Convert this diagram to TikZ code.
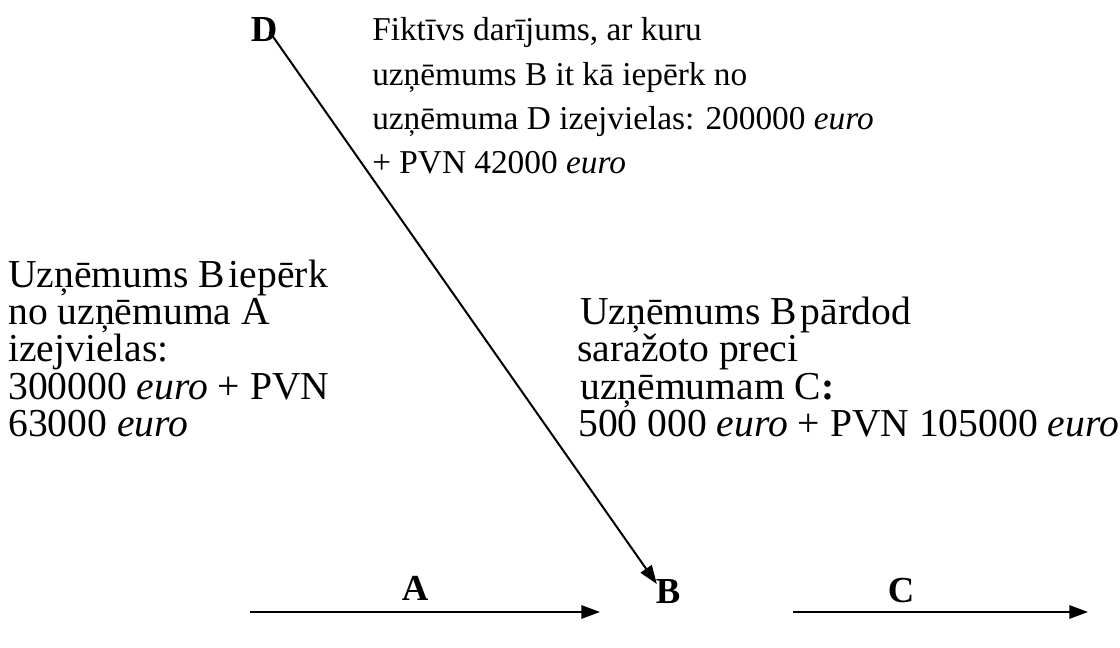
\documentclass[tikz,border=0pt]{standalone}
\usepackage{fontspec}
\setmainfont{Liberation Serif}
\usetikzlibrary{arrows.meta}
\begin{document}
\begin{tikzpicture}[x=0.75pt,y=-0.75pt,
  toptext/.style={font=\fontsize{25}{30}\selectfont, inner sep=0pt, anchor=base west},
  bottext/.style={font=\fontsize{29.7}{34}\selectfont, inner sep=0pt, anchor=base west},
  lbl/.style={font=\fontsize{27.5}{30}\selectfont\bfseries, inner sep=0pt, anchor=base},
  arr/.style={line width=1.5pt, -{Triangle[length=14pt,width=10pt]}}]
\useasboundingbox (0,0) rectangle (1120,648);
% labels
\node[lbl] (D) at (264,42) {D};
\node[lbl] (A) at (415,600) {A};
\node[lbl] (B) at (668,603) {B};
\node[lbl] (C) at (901,602) {C};
% top text
\node[toptext] (t1) at (372,41)  {Fiktīvs darījums, ar kuru};
\node[toptext] (t2) at (372,86)  {uzņēmums B it kā iepērk no};
\node[toptext] (t3) at (372,130) {uzņēmuma D izejvielas: 200000 \textit{euro}};
\node[toptext] (t4) at (372,174) {+ PVN 42000 \textit{euro}};
% left text
\node[bottext] (l1) at (8,288) {Uzņēmums B\hspace{0.1em}iepērk};
\node[bottext] (l2) at (8,325) {no uzņēmuma A};
\node[bottext] (l3) at (8,362) {izejvielas:};
\node[bottext] (l4) at (8,399) {300000 \textit{euro} + PVN};
\node[bottext] (l5) at (8,436) {63000 \textit{euro}};
% right text
\node[bottext] (r1) at (580,325) {Uzņēmums B\hspace{0.1em}pārdod};
\node[bottext] (r2) at (577,362) {saražoto preci};
\node[bottext] (r3) at (580,399) {uzņēmumam C\textbf{:}};
\node[bottext] (r4) at (578,436) {500 000 \textit{euro} + PVN 105000 \textit{euro}};
% arrows
\coordinate (a1) at (250,612);
\coordinate (a2) at (600,612);
\coordinate (c1) at (793,612);
\coordinate (c2) at (1088,612);
\draw[arr] (a1) -- (a2);
\draw[arr] (c1) -- (c2);
\draw[arr] ([xshift=-6pt,yshift=8pt]D.south east) -- ([xshift=1pt,yshift=-4pt]B.north west);
\end{tikzpicture}
\end{document}
